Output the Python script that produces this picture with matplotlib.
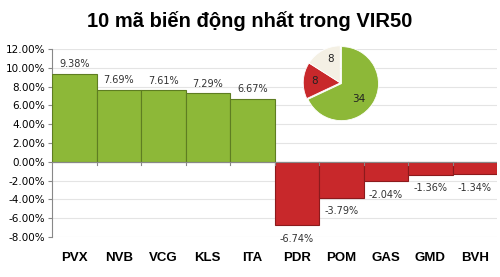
import matplotlib
matplotlib.use("Agg")
import matplotlib.pyplot as plt
import numpy as np

tickers = ["PVX", "NVB", "VCG", "KLS", "ITA", "PDR", "POM", "GAS", "GMD", "BVH"]
changes = [9.38, 7.69, 7.61, 7.29, 6.67, -6.74, -3.79, -2.04, -1.36, -1.34]
pie_values = [34, 8, 8]
pie_labels = ["34", "8", "8"]
title = "10 mã biến động nhất trong VIR50"

plt.rcParams['font.family'] = ['Liberation Sans', 'DejaVu Sans']

fig = plt.figure(figsize=(5.0, 2.77), dpi=100)
ax = fig.add_axes([0.104, 0.144, 0.89, 0.679])

x = np.arange(len(tickers))
colors = ["#8db838" if v >= 0 else "#c8282b" for v in changes]
edges = ["#5e7d22" if v >= 0 else "#8c1a1c" for v in changes]
ax.bar(x, changes, width=1.0, color=colors, edgecolor=edges, linewidth=0.8, zorder=3)

for xi, v in zip(x, changes):
    if v >= 0:
        ax.text(xi, v + 0.5, f"{v:.2f}%", ha="center", va="bottom", fontsize=7, color="#333333",
                family=["DejaVu Sans"])
    else:
        ax.text(xi, v - 0.9, f"{v:.2f}%", ha="center", va="top", fontsize=7, color="#333333",
                family=["DejaVu Sans"])

ax.set_xlim(-0.5, len(tickers) - 0.5)
ax.set_ylim(-8, 12)
ax.set_yticks(np.arange(-8, 13, 2))
ax.set_yticklabels([f"{t:.2f}%" for t in np.arange(-8, 13, 2)], fontsize=7.5, family=["DejaVu Sans"])
ax.yaxis.grid(True, color="#e4e4e4", linewidth=0.8, zorder=0)
ax.set_xticks([])
for s in ["top", "right", "bottom"]:
    ax.spines[s].set_visible(False)
ax.spines["left"].set_color("#888888")
ax.tick_params(axis="y", length=3, color="#888888", pad=2)
ax.axhline(0, color="#888888", linewidth=0.8, zorder=4)
for xi in x[:-1]:
    ax.plot([xi + 0.5, xi + 0.5], [0, -0.3], color="#888888", linewidth=0.8, zorder=4, clip_on=False)

for xi, t in zip(x, tickers):
    ax.text(xi, -10.2, t, ha="center", va="center", fontsize=9.5, fontweight="bold",
            transform=ax.transData, clip_on=False)

fig.text(0.5, 0.925, title, ha="center", va="center", fontsize=14.5, fontweight="bold")

pax = fig.add_axes([0.588, 0.534, 0.185, 0.334])
wedges, texts = pax.pie(pie_values, colors=["#8db838", "#c8282b", "#f4f0e4"], startangle=90,
                        counterclock=False, explode=[0.04, 0, 0],
                        wedgeprops=dict(edgecolor="white", linewidth=0.6))
label_pos = [(0.5, -0.45), (-0.7, 0.05), (-0.25, 0.65)]
for (lx, ly), lab in zip(label_pos, pie_labels):
    pax.text(lx, ly, lab, ha="center", va="center", fontsize=7.5, color="#222222", family=["DejaVu Sans"])
pax.set_aspect("equal")

fig.savefig("out.png", dpi=100)
